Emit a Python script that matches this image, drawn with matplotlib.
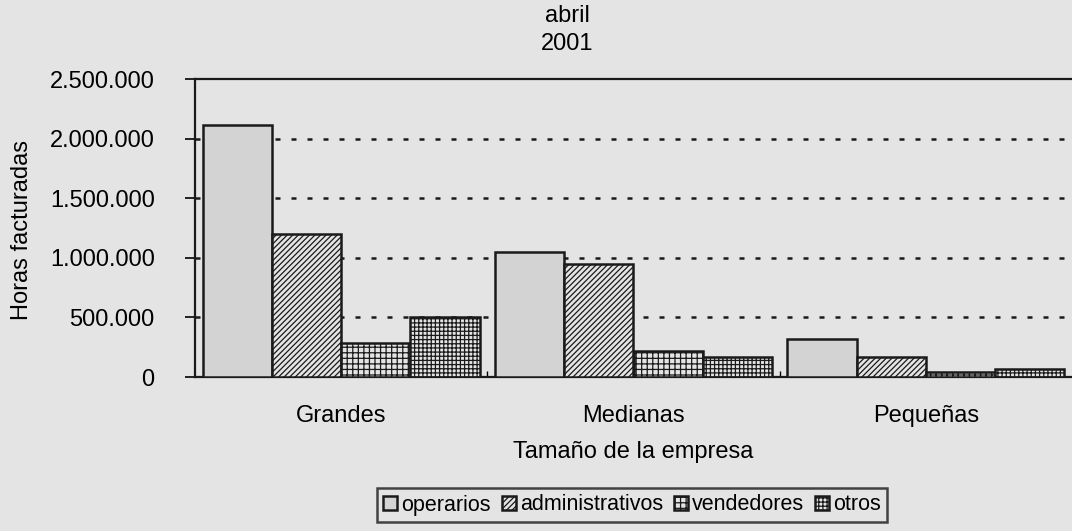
import numpy as np
import matplotlib.pyplot as plt
from matplotlib.ticker import FuncFormatter

plt.rcParams['font.family'] = ['Liberation Sans', 'DejaVu Sans']
plt.rcParams['hatch.linewidth'] = 0.9

categories = ['Grandes', 'Medianas', 'Pequeñas']
series = ['operarios', 'administrativos', 'vendedores', 'otros']
operarios = [2110000, 1050000, 320000]
administrativos = [1200000, 950000, 170000]
vendedores = [285000, 220000, 40000]
otros = [500000, 170000, 70000]
yticks = [0, 500000, 1000000, 1500000, 2000000, 2500000]

bg = '#e4e4e4'
fs = 17
fig = plt.figure(figsize=(10.72, 5.31), dpi=100, facecolor=bg)
ax = fig.add_axes([195 / 1072, 1 - 377 / 531, 1 - 195 / 1072, (377 - 79) / 531])
ax.set_facecolor(bg)

values = [operarios, administrativos, vendedores, otros]
fills = ['#d3d3d3', bg, bg, bg]
hatches = [None, '//////', '+++', '++++']
w = 0.237
x = np.arange(len(categories))
for i, (name, vals) in enumerate(zip(series, values)):
    ax.bar(x + (i - 1.5) * w, vals, w, color=fills[i], edgecolor='#1a1a1a',
           linewidth=1.8, hatch=hatches[i], label=name, zorder=3)

ax.set_ylim(0, 2500000)
ax.set_xlim(-0.5, 2.5)
ax.set_yticks(yticks)
ax.yaxis.set_major_formatter(FuncFormatter(lambda v, p: f'{int(v):,}'.replace(',', '.')))
for v in yticks[1:-1]:
    ax.axhline(v, color='#1a1a1a', lw=1.8, linestyle=(0, (2.0, 4.4)), zorder=1)

ax.set_xticks(x)
ax.set_xticklabels(categories)
ax.set_xticks([0.5, 1.5], minor=True)
ax.tick_params(axis='x', which='major', length=0, pad=20, labelsize=fs)
ax.tick_params(axis='x', which='minor', direction='in', length=4, width=1)
ax.tick_params(axis='y', length=7, width=1.2, labelsize=fs, pad=22)
for s in ['left', 'bottom', 'top']:
    ax.spines[s].set_linewidth(1.6)
    ax.spines[s].set_color('#1a1a1a')
ax.spines['right'].set_visible(False)

fig.text(567 / 1072, 1 - 16 / 531, 'abril', ha='center', va='center', fontsize=fs)
fig.text(567 / 1072, 1 - 44 / 531, '2001', ha='center', va='center', fontsize=fs)
fig.text(22 / 1072, 1 - 230 / 531, 'Horas facturadas', rotation=90,
         ha='center', va='center', fontsize=fs)
fig.text(633 / 1072, 1 - 452 / 531, 'Tamaño de la empresa', ha='center',
         va='center', fontsize=fs)

leg = fig.legend(loc='center', bbox_to_anchor=(632 / 1072, 1 - 505 / 531), ncol=4,
                 fontsize=15.5, frameon=True, fancybox=False, handlelength=0.65,
                 handleheight=0.65, handletextpad=0.2, columnspacing=0.5,
                 borderpad=0.3, borderaxespad=0)
leg.get_frame().set_edgecolor('#1a1a1a')
leg.get_frame().set_linewidth(1.8)
leg.get_frame().set_facecolor(bg)

fig.savefig('out.png', dpi=100, facecolor=bg)
